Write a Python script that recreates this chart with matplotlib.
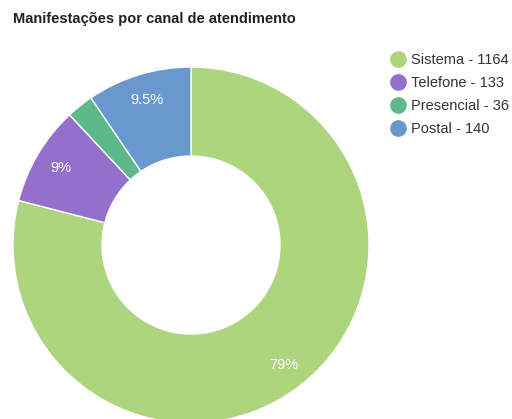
import matplotlib
matplotlib.use('Agg')
import matplotlib.pyplot as plt
from matplotlib.lines import Line2D

# data
canais = ['Sistema', 'Telefone', 'Presencial', 'Postal']
valores = [1164, 133, 36, 140]
cores = ['#acd57e', '#9470cd', '#5db98b', '#6898cd']

plt.rcParams['font.family'] = ['Liberation Sans', 'DejaVu Sans']

fig = plt.figure(figsize=(5.12, 4.19), dpi=100)

# donut axes: center ~ (191, 245) px, radius ~178 px
ax = fig.add_axes([13 / 512, -4 / 419, 356 / 512, 356 / 419])

def fmt(pct):
    if pct < 5:
        return ''
    s = '%.1f' % pct
    if s.endswith('.0'):
        s = s[:-2]
    return s + '%'

wedges, texts, autotexts = ax.pie(
    valores, colors=cores, startangle=90, counterclock=False,
    radius=1, autopct=fmt, pctdistance=0.85,
    wedgeprops=dict(width=0.5, edgecolor='white', linewidth=1),
    textprops=dict(color='white', fontsize=10.5))
ax.set_xlim(-1, 1)
ax.set_ylim(-1, 1)
ax.set_aspect('equal')
ax.axis('off')

fig.text(13 / 512, 1 - 19 / 419, 'Manifestações por canal de atendimento',
         fontsize=10.5, fontweight='bold', va='center', ha='left', color='#222222')

# legend
handles = [Line2D([0], [0], marker='o', linestyle='', markersize=11,
                  markerfacecolor=c, markeredgecolor=c) for c in cores]
labels = ['%s - %d' % (n, v) for n, v in zip(canais, valores)]
fig.legend(handles, labels, loc='upper left', bbox_to_anchor=(383 / 512, 1 - 47 / 419),
           frameon=False, fontsize=10.5, handletextpad=0.3, labelspacing=0.62,
           handlelength=1.2, borderaxespad=0, labelcolor='#333333')

fig.savefig('out.png', dpi=100)
